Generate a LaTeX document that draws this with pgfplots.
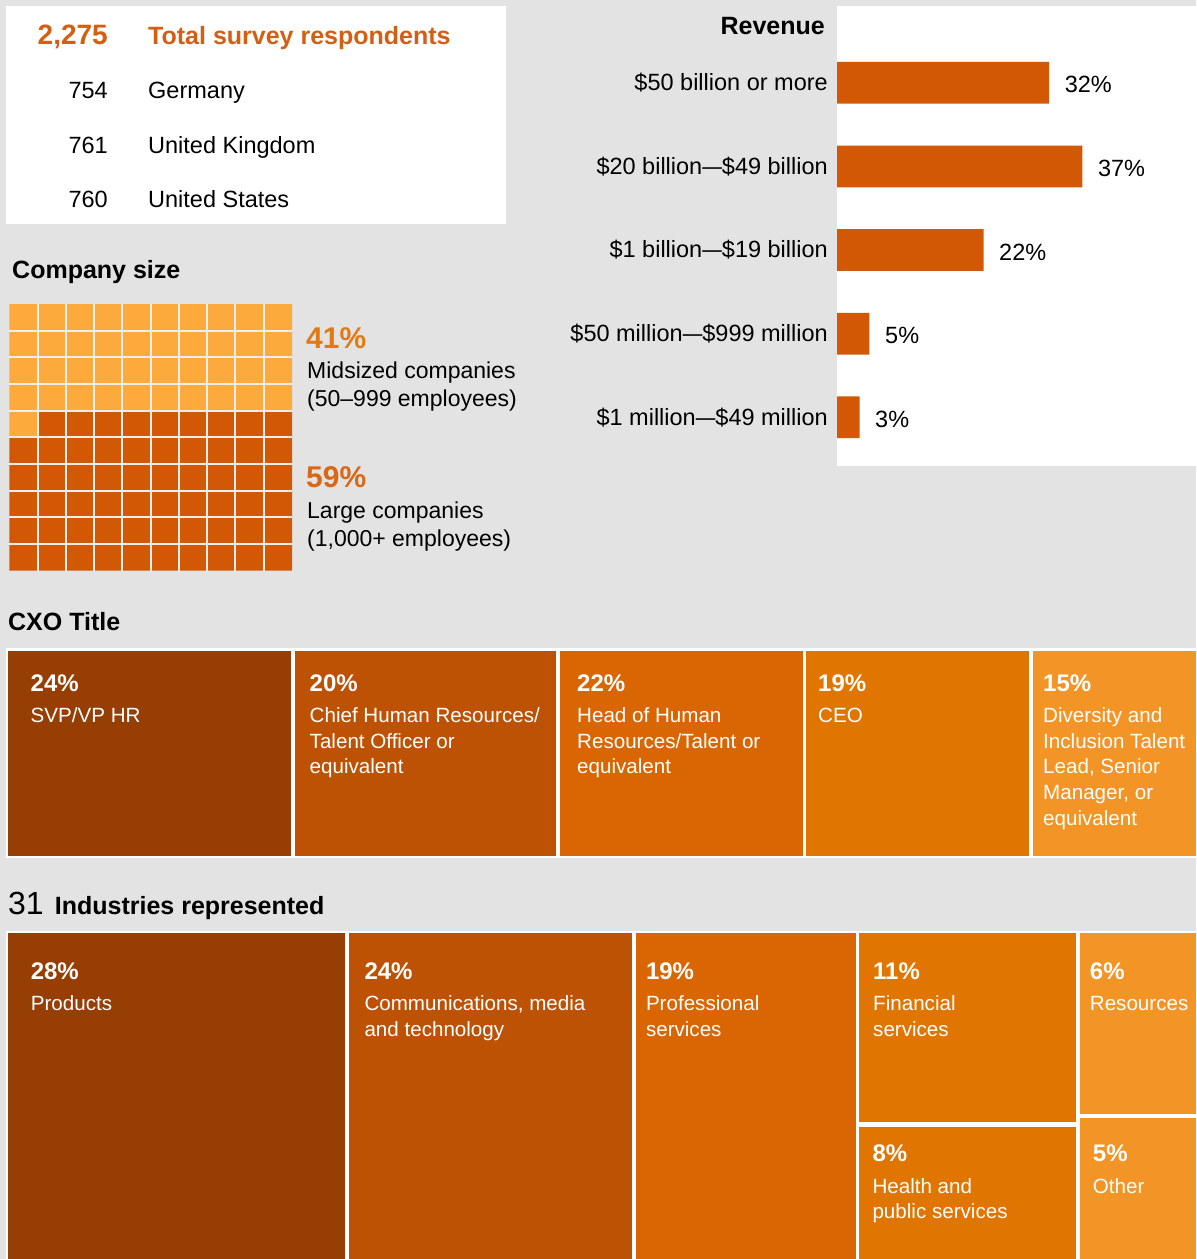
\documentclass[border=0pt]{standalone}
\usepackage{fontspec}
\setmainfont{Liberation Sans}
\usepackage{graphicx}
\usepackage{pgfplots}
\pgfplotsset{compat=1.18}
\definecolor{bg}{RGB}{227,227,227}
\definecolor{cA}{RGB}{150,62,3}
\definecolor{cB}{RGB}{190,82,4}
\definecolor{cC}{RGB}{217,102,3}
\definecolor{cD}{RGB}{224,117,2}
\definecolor{cE}{RGB}{242,149,38}
\definecolor{barc}{RGB}{211,88,5}
\definecolor{wlight}{RGB}{253,170,60}
\definecolor{wdark}{RGB}{211,88,5}
\definecolor{tot}{RGB}{211,95,20}
\definecolor{pA}{RGB}{226,122,20}
\definecolor{pB}{RGB}{217,104,22}
\definecolor{gapc}{RGB}{238,238,238}
\newcommand{\fs}[1]{\fontsize{#1}{#1}\selectfont}
\newcommand{\dash}{\scalebox{1.5}[1]{–}}
\newcommand{\cell}[5]{\addplot[fill=#5,draw=none] coordinates {(#1,#2) (#3,#2) (#3,#4) (#1,#4)};}
\newcommand{\tx}[4][]{\node[anchor=base west,inner sep=0pt,#1] at (axis cs:#2,#3) {#4};}
\begin{document}
\begin{tikzpicture}
\begin{axis}[at={(0,0)},anchor=south west,width=1196pt,height=1259pt,scale only axis,
  xmin=0,xmax=1196,ymin=0,ymax=1259,y dir=reverse,hide axis,clip=false]
\fill[bg] (axis cs:0,0) rectangle (axis cs:1196,1259);
% respondents box
\cell{6}{5.7}{505.7}{224.3}{white}
\tx[anchor=base east,text=tot,font=\fs{28}\bfseries]{108}{44.3}{2,275}
\tx[text=tot,font=\fs{25}\bfseries]{148}{44.3}{Total survey respondents}
\tx[anchor=base east,font=\fs{23.5}]{108}{98}{754}
\tx[font=\fs{23.5}]{148}{98}{Germany}
\tx[anchor=base east,font=\fs{23.5}]{108}{153}{761}
\tx[font=\fs{23.5}]{148}{153}{United Kingdom}
\tx[anchor=base east,font=\fs{23.5}]{108}{207}{760}
\tx[font=\fs{23.5}]{148}{207}{United States}
\tx[anchor=base east,font=\fs{25}\bfseries]{825}{34}{Revenue}
% company size waffle
\tx[font=\fs{25}\bfseries]{12}{278}{Company size}
\addplot[fill=wlight,draw=none] coordinates {(9.3,304) (292,304) (292,410.7) (37.6,410.7) (37.6,437.3) (9.3,437.3)};
\addplot[fill=wdark,draw=none] coordinates {(37.6,410.7) (292,410.7) (292,570.7) (9.3,570.7) (9.3,437.3) (37.6,437.3)};
\pgfplotsinvokeforeach{1,...,9}{
  \draw[gapc,line width=2pt] (axis cs:{9.3+28.27*#1},304) -- (axis cs:{9.3+28.27*#1},570.7);
  \draw[gapc,line width=2pt] (axis cs:9.3,{304+26.67*#1}) -- (axis cs:292,{304+26.67*#1});
}
\tx[text=pA,font=\fs{30}\bfseries]{306}{348}{41\%}
\tx[font=\fs{23}]{307}{378}{Midsized companies}
\tx[font=\fs{23}]{307}{406.5}{(50–999 employees)}
\tx[text=pB,font=\fs{30}\bfseries]{306}{487}{59\%}
\tx[font=\fs{23}]{307}{518}{Large companies}
\tx[font=\fs{23}]{307}{546}{(1,000+ employees)}
% CXO title treemap
\tx[font=\fs{25}\bfseries]{8}{630}{CXO Title}
\cell{6}{648}{1196}{857.5}{white}
\cell{8}{650.5}{291}{855.5}{cA}
\cell{295}{650.5}{556}{855.5}{cB}
\cell{560}{650.5}{802.5}{855.5}{cC}
\cell{806}{650.5}{1029}{855.5}{cD}
\cell{1032.5}{650.5}{1196}{855.5}{cE}
\tx[text=white,font=\fs{24}\bfseries]{30.5}{691.7}{24\%}
\tx[text=white,font=\fs{20.6}]{30.5}{722.7}{SVP/VP HR}
\tx[text=white,font=\fs{24}\bfseries]{309.5}{691.7}{20\%}
\tx[text=white,font=\fs{20.6}]{309.5}{722.7}{Chief Human Resources/}
\tx[text=white,font=\fs{20.6}]{309.5}{748.3}{Talent Officer or}
\tx[text=white,font=\fs{20.6}]{309.5}{773.9}{equivalent}
\tx[text=white,font=\fs{24}\bfseries]{577}{691.7}{22\%}
\tx[text=white,font=\fs{20.6}]{577}{722.7}{Head of Human}
\tx[text=white,font=\fs{20.6}]{577}{748.3}{Resources/Talent or}
\tx[text=white,font=\fs{20.6}]{577}{773.9}{equivalent}
\tx[text=white,font=\fs{24}\bfseries]{818}{691.7}{19\%}
\tx[text=white,font=\fs{20.6}]{818}{722.7}{CEO}
\tx[text=white,font=\fs{24}\bfseries]{1043}{691.7}{15\%}
\tx[text=white,font=\fs{20.6}]{1043}{722.7}{Diversity and}
\tx[text=white,font=\fs{20.6}]{1043}{748.3}{Inclusion Talent}
\tx[text=white,font=\fs{20.6}]{1043}{773.9}{Lead, Senior}
\tx[text=white,font=\fs{20.6}]{1043}{799.5}{Manager, or}
\tx[text=white,font=\fs{20.6}]{1043}{825.1}{equivalent}
% industries treemap
\tx[font=\fs{32}]{8}{914.3}{31}
\tx[font=\fs{25}\bfseries]{54.7}{914.3}{Industries represented}
\cell{6}{930.5}{1196}{1259}{white}
\cell{8}{933}{345}{1259}{cA}
\cell{349}{933}{632}{1259}{cB}
\cell{635.5}{933}{855.5}{1259}{cC}
\cell{859}{933}{1075.5}{1122}{cD}
\cell{859}{1126.5}{1075.5}{1259}{cD}
\cell{1079.5}{933}{1196}{1114}{cE}
\cell{1079.5}{1118}{1196}{1259}{cE}
\tx[text=white,font=\fs{24}\bfseries]{30.6}{979.3}{28\%}
\tx[text=white,font=\fs{20.6}]{30.6}{1010.7}{Products}
\tx[text=white,font=\fs{24}\bfseries]{364.3}{979.3}{24\%}
\tx[text=white,font=\fs{20.6}]{364.3}{1010.7}{Communications, media}
\tx[text=white,font=\fs{20.6}]{364.3}{1036.3}{and technology}
\tx[text=white,font=\fs{24}\bfseries]{645.8}{979.3}{19\%}
\tx[text=white,font=\fs{20.6}]{645.8}{1010.7}{Professional}
\tx[text=white,font=\fs{20.6}]{645.8}{1036.3}{services}
\tx[text=white,font=\fs{24}\bfseries]{873}{979.3}{11\%}
\tx[text=white,font=\fs{20.6}]{873}{1010.7}{Financial}
\tx[text=white,font=\fs{20.6}]{873}{1036.3}{services}
\tx[text=white,font=\fs{24}\bfseries]{1089.7}{979.3}{6\%}
\tx[text=white,font=\fs{20.6}]{1089.7}{1010.7}{Resources}
\tx[text=white,font=\fs{24}\bfseries]{872.3}{1161.7}{8\%}
\tx[text=white,font=\fs{20.6}]{872.3}{1193.3}{Health and}
\tx[text=white,font=\fs{20.6}]{872.3}{1218.9}{public services}
\tx[text=white,font=\fs{24}\bfseries]{1092.7}{1161.7}{5\%}
\tx[text=white,font=\fs{20.6}]{1092.7}{1193.3}{Other}
\end{axis}
% revenue bar chart
\begin{axis}[at={(837pt,793pt)},anchor=south west,width=359pt,height=460pt,scale only axis,
  xbar,bar width=41.7pt,xmin=0,xmax=54.15,ymin=-0.918,ymax=4.582,y dir=reverse,
  ytick={0,1,2,3,4},
  yticklabels={\$50 billion or more,\$20 billion\dash\$49 billion,\$1 billion\dash\$19 billion,\$50 million\dash\$999 million,\$1 million\dash\$49 million},
  xtick=\empty,axis line style={draw=none},major tick length=0pt,
  yticklabel style={font=\fs{23.5},inner sep=0pt,xshift=-9pt},
  axis background/.style={fill=white},
  point meta=explicit symbolic,
  nodes near coords={\pgfplotspointmeta\%},
  nodes near coords style={font=\fs{23.5},anchor=west,inner sep=0pt,xshift=15.5pt,yshift=-2pt},
  clip=false,enlargelimits=false]
\addplot[fill=barc,draw=none] coordinates {(32,0) [32] (37,1) [37] (22.1,2) [22] (4.9,3) [5] (3.4,4) [3]};
\end{axis}
\end{tikzpicture}
\end{document}
